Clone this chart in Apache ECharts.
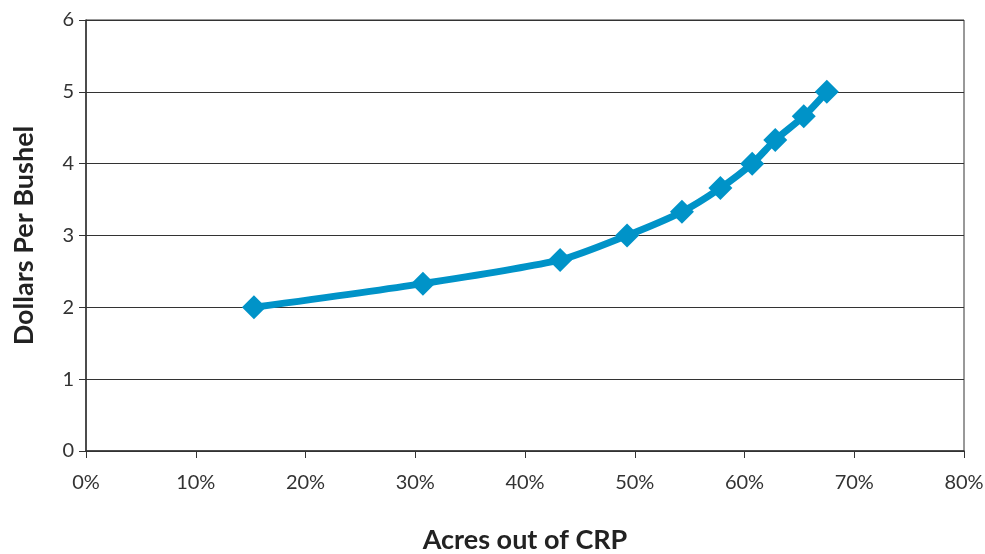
<!DOCTYPE html>
<html>
<head>
<meta charset="utf-8">
<script src="https://cdn.jsdelivr.net/npm/echarts@6/dist/echarts.min.js"></script>
<style>html,body{margin:0;padding:0;background:#fff}#c{width:985px;height:554px}</style>
</head>
<body>
<div id="c"></div>
<script>
const acresOut = [15.3, 30.7, 43.2, 49.3, 54.3, 57.8, 60.7, 62.8, 65.4, 67.5];
const dollars = [2.0, 2.33, 2.66, 3.0, 3.33, 3.66, 4.0, 4.33, 4.66, 5.0];
const xTitle = 'Acres out of CRP';
const yTitle = 'Dollars Per Bushel';

const chart = echarts.init(document.getElementById('c'));
const font = 'Lato, "Open Sans", sans-serif';
chart.setOption({
  animation: false,
  grid: {left: 86, right: 21, top: 20, bottom: 103, outerBoundsMode: 'none', containLabel: false, show: true, borderColor: '#333', borderWidth: 1, backgroundColor: 'transparent'},
  xAxis: {
    type: 'value', min: 0, max: 80, interval: 10,
    name: xTitle, nameLocation: 'middle', nameGap: 76,
    nameTextStyle: {fontFamily: font, fontWeight: 'bold', fontSize: 27, color: '#222'},
    axisLine: {show: true, lineStyle: {color: '#333', width: 1.5}},
    axisTick: {show: true, length: 7, lineStyle: {color: '#333'}},
    axisLabel: {formatter: '{value}%', fontFamily: font, fontSize: 20, color: '#333', margin: 22},
    splitLine: {show: false}
  },
  yAxis: {
    type: 'value', min: 0, max: 6, interval: 1,
    name: yTitle, nameLocation: 'middle', nameGap: 48,
    nameTextStyle: {fontFamily: font, fontWeight: 'bold', fontSize: 27, color: '#222'},
    axisLine: {show: true, lineStyle: {color: '#333', width: 1.5}},
    axisTick: {show: true, length: 7, lineStyle: {color: '#333'}},
    axisLabel: {fontFamily: font, fontSize: 20, color: '#333', margin: 12},
    splitLine: {show: true, lineStyle: {color: '#333', width: 1}}
  },
  series: [{
    type: 'line',
    data: acresOut.map((x, i) => [x, dollars[i]]),
    smooth: 0.25,
    symbol: 'diamond', symbolSize: 24,
    lineStyle: {color: '#0093C8', width: 7},
    itemStyle: {color: '#0093C8'}
  }]
});
</script>
</body>
</html>
